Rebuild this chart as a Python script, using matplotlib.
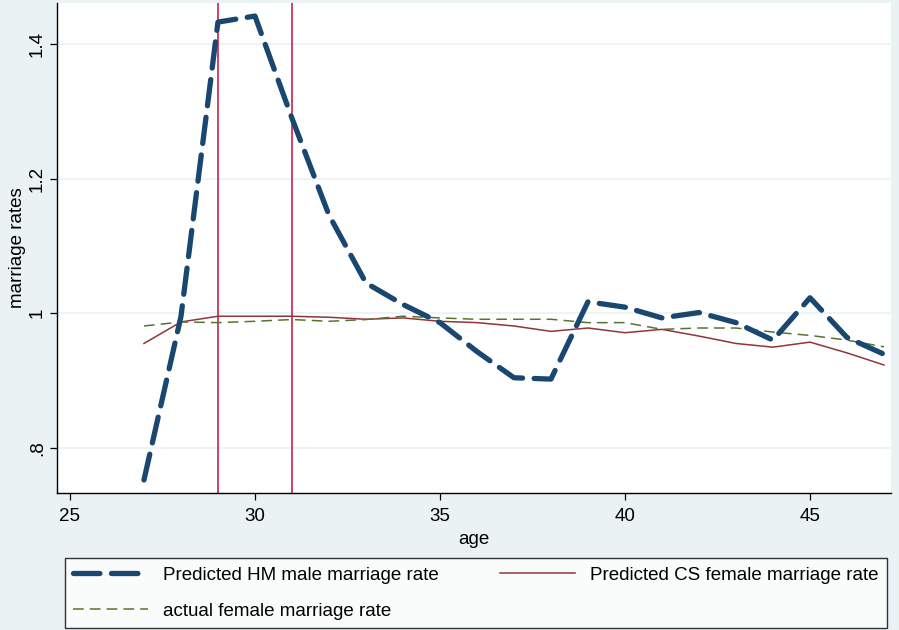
import matplotlib
matplotlib.use("Agg")
import matplotlib.pyplot as plt
matplotlib.rcParams['font.family'] = ['Liberation Sans', 'DejaVu Sans']

# -------------------------------------------------------- #
age = list(range(27, 48))
hm_male = [0.752, 0.995, 1.433, 1.442, 1.29, 1.146, 1.045, 1.013, 0.986, 0.943,
           0.904, 0.902, 1.017, 1.009, 0.993, 1.001, 0.986, 0.960, 1.023, 0.964, 0.939]
cs_female = [0.955, 0.987, 0.9955, 0.9955, 0.9955, 0.994, 0.991, 0.993, 0.988, 0.986,
             0.981, 0.973, 0.978, 0.971, 0.976, 0.966, 0.955, 0.9495, 0.957, 0.941, 0.923]
actual_female = [0.981, 0.987, 0.986, 0.988, 0.9906, 0.988, 0.9906, 0.9955, 0.993, 0.991,
                 0.991, 0.991, 0.986, 0.986, 0.976, 0.978, 0.978, 0.972, 0.967, 0.960, 0.950]
xlines = [29, 31]
xticks = [25, 30, 35, 40, 45]
yticks = [0.8, 1.0, 1.2, 1.4]
ylabels = [".8", "1", "1.2", "1.4"]
# -------------------------------------------------------- #

bg = "#EAF2F3"
fs = 13.5
fig = plt.figure(figsize=(8.99, 6.3), dpi=100, facecolor=bg)
ax = fig.add_axes([57/899, 137/630, 834/899, 490/630])
ax.set_facecolor("white")

for v in xlines:
    ax.axvline(v, color="#C8234A", lw=1.2, zorder=2)

l1, = ax.plot(age, hm_male, color="#1A476F", lw=3.8, dashes=(5, 2.2),
              dash_capstyle="round", zorder=4, label="Predicted HM male marriage rate")
l2, = ax.plot(age, cs_female, color="#90353B", lw=1.1, zorder=3,
              label="Predicted CS female marriage rate")
l3, = ax.plot(age, actual_female, color="#55752F", lw=1.1, dashes=(7, 4), zorder=3,
              label="actual female marriage rate")

ax.set_xlim(24.65, 47.19)
ax.set_ylim(0.7326, 1.4614)
ax.set_xticks(xticks)
ax.set_yticks(yticks)
ax.set_yticklabels(ylabels, rotation=90, va="center")
ax.grid(axis="y", color=bg, lw=1.2)
ax.set_axisbelow(True)
for s in ["top", "right"]:
    ax.spines[s].set_visible(False)
for s in ["left", "bottom"]:
    ax.spines[s].set_linewidth(1.0)
ax.tick_params(axis="both", direction="out", length=5, width=0.9, labelsize=fs)
ax.tick_params(axis="x", pad=6)
ax.tick_params(axis="y", pad=3)
ax.set_xlabel("age", fontsize=fs, labelpad=4)
ax.set_ylabel("marriage rates", fontsize=fs, labelpad=2)

# row-wise order: HM, CS / actual
leg = fig.legend(handles=[l1, l3, l2], loc="lower left", ncol=2,
                 bbox_to_anchor=(65/899, 2/630, 822/899, 70/630), mode="expand",
                 borderaxespad=0, fontsize=fs, frameon=True, fancybox=False,
                 edgecolor="black", handlelength=4.0, handletextpad=0.8,
                 borderpad=0.45, labelspacing=1.0, columnspacing=3)
leg.get_frame().set_linewidth(1.0)

fig.savefig("out.png", dpi=100, facecolor=bg)
